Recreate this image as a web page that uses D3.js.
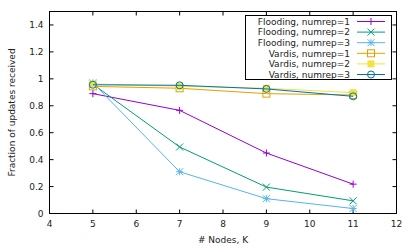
<!DOCTYPE html>
<html lang="en">
<head>
  <meta charset="UTF-8">
  <title>Fraction of updates received</title>
  <script src="https://d3js.org/d3.v7.min.js"></script>
  <style>
    body { margin: 0; background: #fff; font-family: 'DejaVu Sans', sans-serif; }
    svg text { font-size: 9px; fill: #222; }
  </style>
</head>
<body>
  <svg width="415" height="249"></svg>
  <script>
    // node counts K
    const nodes = [5, 7, 9, 11];

    const flooding1 = [0.89, 0.766, 0.449, 0.218];
    const flooding2 = [0.96, 0.494, 0.196, 0.094];
    const flooding3 = [0.97, 0.31, 0.11, 0.037];
    const vardis1 = [0.944, 0.93, 0.89, 0.88];
    const vardis2 = [0.962, 0.945, 0.93, 0.897];
    const vardis3 = [0.956, 0.952, 0.925, 0.87];

    const xTicks = [4, 5, 6, 7, 8, 9, 10, 11, 12];
    const yTicks = [0, 0.2, 0.4, 0.6, 0.8, 1, 1.2, 1.4];

    const series = [
      {name: "Flooding, numrep=1", values: flooding1, color: "#9400d3", marker: "plus"},
      {name: "Flooding, numrep=2", values: flooding2, color: "#009e73", marker: "cross"},
      {name: "Flooding, numrep=3", values: flooding3, color: "#56b4e9", marker: "star"},
      {name: "Vardis, numrep=1", values: vardis1, color: "#e69f00", marker: "square"},
      {name: "Vardis, numrep=2", values: vardis2, color: "#f0e442", marker: "fsquare"},
      {name: "Vardis, numrep=3", values: vardis3, color: "#0072b2", marker: "circle"}
    ];

    const svg = d3.select("svg");
    const m = {left: 49.5, right: 396.5, top: 11.5, bottom: 213.5};

    const x = d3.scaleLinear().domain([4, 12]).range([m.left, m.right]);
    const y = d3.scaleLinear().domain([0, 1.5]).range([m.bottom, m.top]);

    // frame
    svg.append("rect")
      .attr("x", m.left).attr("y", m.top)
      .attr("width", m.right - m.left).attr("height", m.bottom - m.top)
      .attr("fill", "none").attr("stroke", "#000").attr("stroke-width", 1);

    // ticks (inward, mirrored)
    const tk = 4;
    xTicks.forEach(t => {
      svg.append("line").attr("x1", x(t)).attr("x2", x(t)).attr("y1", m.bottom).attr("y2", m.bottom - tk).attr("stroke", "#000");
      svg.append("line").attr("x1", x(t)).attr("x2", x(t)).attr("y1", m.top).attr("y2", m.top + tk).attr("stroke", "#000");
      svg.append("text").attr("x", x(t)).attr("y", m.bottom + 13).attr("text-anchor", "middle").text(t);
    });
    yTicks.forEach(t => {
      svg.append("line").attr("x1", m.left).attr("x2", m.left + tk).attr("y1", y(t)).attr("y2", y(t)).attr("stroke", "#000");
      svg.append("line").attr("x1", m.right).attr("x2", m.right - tk).attr("y1", y(t)).attr("y2", y(t)).attr("stroke", "#000");
      svg.append("text").attr("x", m.left - 6).attr("y", y(t) + 3).attr("text-anchor", "end").text(t);
    });

    svg.append("text")
      .attr("transform", "translate(15," + ((m.top + m.bottom) / 2) + ") rotate(-90)")
      .attr("text-anchor", "middle").text("Fraction of updates received");
    svg.append("text")
      .attr("x", (m.left + m.right) / 2).attr("y", 243)
      .attr("text-anchor", "middle").text("# Nodes, K");

    function drawMarker(g, type, cx, cy, color) {
      const r = 3.5;
      if (type === "plus" || type === "star") {
        g.append("line").attr("x1", cx - r).attr("x2", cx + r).attr("y1", cy).attr("y2", cy).attr("stroke", color);
        g.append("line").attr("x1", cx).attr("x2", cx).attr("y1", cy - r).attr("y2", cy + r).attr("stroke", color);
      }
      if (type === "cross" || type === "star") {
        g.append("line").attr("x1", cx - r).attr("x2", cx + r).attr("y1", cy - r).attr("y2", cy + r).attr("stroke", color);
        g.append("line").attr("x1", cx - r).attr("x2", cx + r).attr("y1", cy + r).attr("y2", cy - r).attr("stroke", color);
      }
      if (type === "square") {
        g.append("rect").attr("x", cx - r).attr("y", cy - r).attr("width", 2 * r).attr("height", 2 * r)
          .attr("fill", "none").attr("stroke", color);
      }
      if (type === "fsquare") {
        g.append("rect").attr("x", cx - r).attr("y", cy - r).attr("width", 2 * r).attr("height", 2 * r)
          .attr("fill", color);
      }
      if (type === "circle") {
        g.append("circle").attr("cx", cx).attr("cy", cy).attr("r", r)
          .attr("fill", "none").attr("stroke", color);
      }
    }

    const line = d3.line().x((d, i) => x(nodes[i])).y(d => y(d));

    series.forEach(s => {
      const g = svg.append("g");
      g.append("path").datum(s.values).attr("d", line)
        .attr("fill", "none").attr("stroke", s.color).attr("stroke-width", 1);
      s.values.forEach((v, i) => drawMarker(g, s.marker, x(nodes[i]), y(v), s.color));
    });

    // legend
    const lg = svg.append("g");
    lg.append("rect").attr("x", 245.5).attr("y", 15.5).attr("width", 146).attr("height", 64)
      .attr("fill", "#fff").attr("stroke", "#000");
    series.forEach((s, i) => {
      const ly = 21.5 + i * 10.6;
      lg.append("text").attr("x", 350).attr("y", ly + 3.2).attr("text-anchor", "end").text(s.name);
      lg.append("line").attr("x1", 357).attr("x2", 385).attr("y1", ly).attr("y2", ly)
        .attr("stroke", s.color);
      drawMarker(lg, s.marker, 371, ly, s.color);
    });
  </script>
</body>
</html>
